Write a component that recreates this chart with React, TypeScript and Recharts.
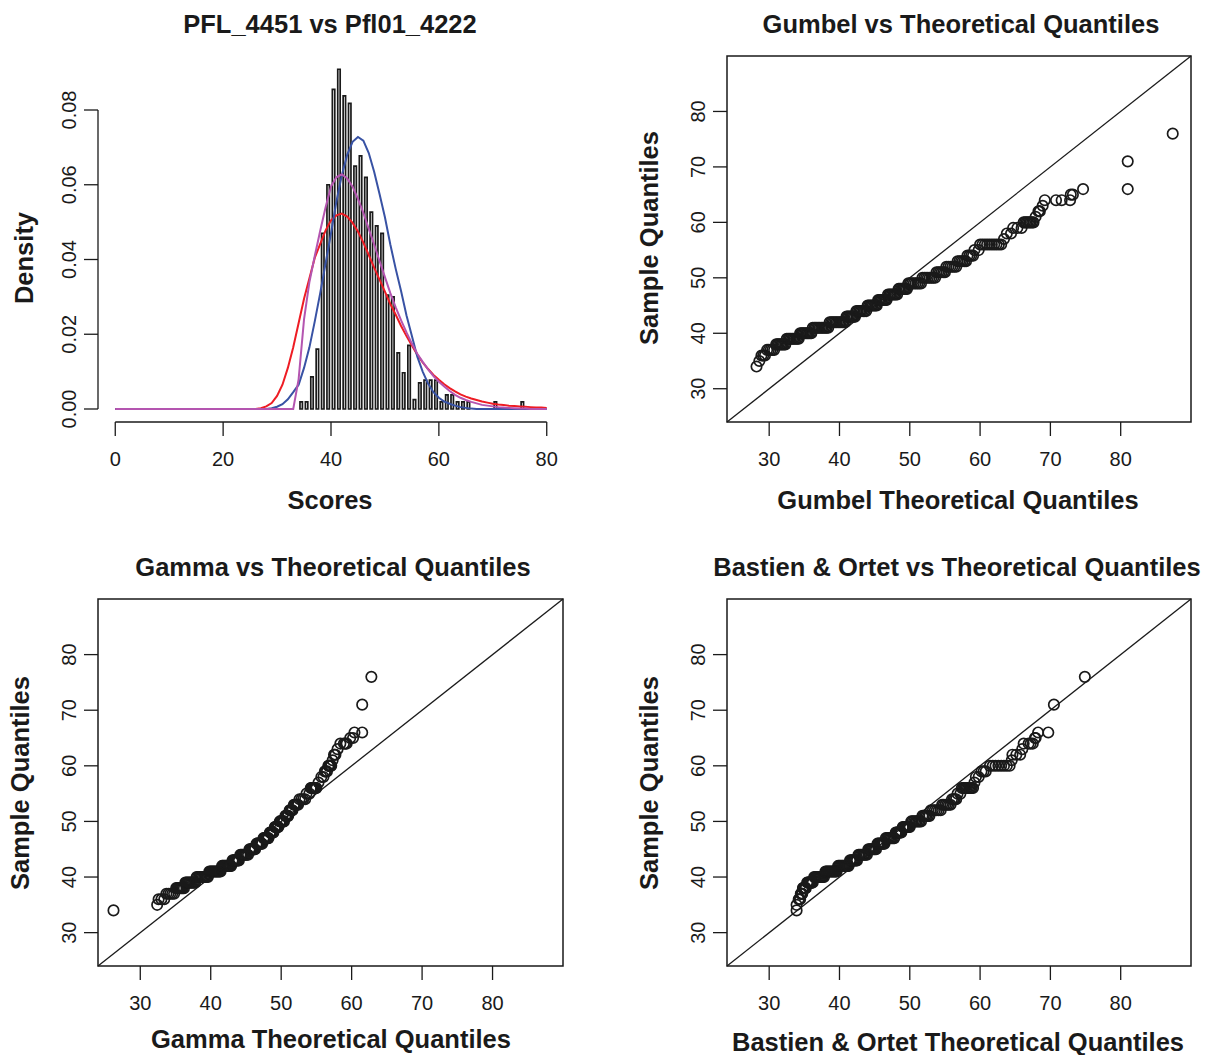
import React from "react";
import {
  Bar,
  ComposedChart,
  Line,
  ReferenceArea,
  ReferenceLine,
  Scatter,
  ScatterChart,
  XAxis,
  YAxis,
} from "recharts";

const FONT = '"Liberation Sans", Arial, Helvetica, sans-serif';
const INK = "#1a1a1a";

// histogram: left edge of each 1-unit bin and its density
const binStarts = [
  34, 35, 36, 37, 38, 39, 40, 41, 42, 43, 44, 45, 46, 47, 48, 49, 50, 51, 52,
  53, 54, 55, 56, 57, 58, 59, 60, 61, 62, 63, 64, 65, 70, 75,
];
const binDensity = [
  0.0019, 0.0019, 0.0086, 0.016, 0.047, 0.06, 0.0855, 0.0909, 0.0838, 0.0818,
  0.065, 0.0677, 0.062, 0.0527, 0.049, 0.047, 0.0305, 0.03, 0.015, 0.0097,
  0.017, 0.0025, 0.007, 0.0077, 0.0077, 0.0077, 0.0019, 0.0038, 0.0038, 0.0019,
  0.0019, 0.0019, 0.0019, 0.0019,
];

// fitted density curves, one value per score 0..80
const curveScores = [
  0, 1, 2, 3, 4, 5, 6, 7, 8, 9, 10, 11, 12, 13, 14, 15, 16, 17, 18, 19, 20,
  21, 22, 23, 24, 25, 26, 27, 28, 29, 30, 31, 32, 33, 34, 35, 36, 37, 38, 39,
  40, 41, 42, 43, 44, 45, 46, 47, 48, 49, 50, 51, 52, 53, 54, 55, 56, 57, 58,
  59, 60, 61, 62, 63, 64, 65, 66, 67, 68, 69, 70, 71, 72, 73, 74, 75, 76, 77,
  78, 79, 80,
];
const gumbelDensity = [
  0, 0, 0, 0, 0, 0, 0, 0, 0, 0, 0, 0, 0, 0, 0, 0, 0, 0, 0, 0, 0, 0, 0, 0, 0, 0,
  0, 0.0002, 0.0007, 0.0016, 0.0035, 0.0065, 0.011, 0.0165, 0.023, 0.0295,
  0.035, 0.0405, 0.0442, 0.0478, 0.0505, 0.0518, 0.0523, 0.0515, 0.0498,
  0.0475, 0.0445, 0.0412, 0.0378, 0.0346, 0.0314, 0.0281, 0.0252, 0.0222,
  0.0195, 0.017, 0.0145, 0.0125, 0.0107, 0.0091, 0.0078, 0.0066, 0.0056,
  0.0047, 0.0039, 0.0033, 0.0028, 0.0024, 0.002, 0.0017, 0.0014, 0.0012,
  0.0011, 0.0009, 0.0008, 0.0007, 0.0006, 0.0005, 0.0004, 0.0004, 0.0003,
];
const gammaDensity = [
  0, 0, 0, 0, 0, 0, 0, 0, 0, 0, 0, 0, 0, 0, 0, 0, 0, 0, 0, 0, 0, 0, 0, 0, 0, 0,
  0, 0, 0, 0.0002, 0.0006, 0.0013, 0.0026, 0.0045, 0.0065, 0.011, 0.0165,
  0.0235, 0.031, 0.039, 0.047, 0.0555, 0.0625, 0.068, 0.0715, 0.0728, 0.0718,
  0.0685, 0.0635, 0.0575, 0.0513, 0.044, 0.0375, 0.0315, 0.025, 0.0195, 0.014,
  0.01, 0.0068, 0.0045, 0.003, 0.002, 0.0014, 0.0009, 0.0005, 0.0003, 0.0001,
  0, 0, 0, 0, 0, 0, 0, 0, 0, 0, 0, 0, 0, 0,
];
const bastienDensity = [
  0, 0, 0, 0, 0, 0, 0, 0, 0, 0, 0, 0, 0, 0, 0, 0, 0, 0, 0, 0, 0, 0, 0, 0, 0, 0,
  0, 0, 0, 0, 0, 0, 0, 0, 0.008, 0.024, 0.034, 0.041, 0.0477, 0.054, 0.0595,
  0.062, 0.0628, 0.0617, 0.0595, 0.0562, 0.0525, 0.0482, 0.044, 0.0396,
  0.0353, 0.031, 0.0272, 0.0237, 0.0205, 0.0175, 0.0148, 0.0126, 0.0106,
  0.0088, 0.0073, 0.006, 0.0048, 0.0038, 0.003, 0.0024, 0.0019, 0.0015,
  0.0011, 0.0009, 0.0007, 0.0005, 0.0004, 0.0003, 0.0002, 0.0001, 0.0001, 0,
  0, 0, 0,
];

// sorted sample quantiles (one line per score level)
const sampleQuantiles = [
  34,
  35,
  36, 36, 36,
  37, 37, 37, 37, 37,
  38, 38, 38, 38, 38, 38, 38, 38,
  39, 39, 39, 39, 39, 39, 39, 39, 39, 39,
  40, 40, 40, 40, 40, 40, 40, 40, 40, 40,
  41, 41, 41, 41, 41, 41, 41, 41, 41, 41, 41, 41,
  42, 42, 42, 42, 42, 42, 42, 42, 42, 42, 42, 42,
  43, 43, 43, 43, 43, 43, 43, 43,
  44, 44, 44, 44, 44, 44, 44, 44,
  45, 45, 45, 45, 45, 45, 45, 45,
  46, 46, 46, 46, 46, 46, 46, 46,
  47, 47, 47, 47, 47, 47, 47, 47,
  48, 48, 48, 48, 48, 48, 48, 48,
  49, 49, 49, 49, 49, 49, 49, 49,
  50, 50, 50, 50, 50, 50, 50, 50,
  51, 51, 51, 51, 51, 51,
  52, 52, 52, 52, 52, 52,
  53, 53, 53, 53, 53, 53,
  54, 54, 54, 54,
  55, 55,
  56, 56, 56, 56, 56, 56, 56, 56, 56, 56,
  57,
  58, 58,
  59, 59, 59,
  60, 60, 60, 60, 60, 60, 60, 60,
  61,
  62, 62, 62,
  63,
  64, 64, 64, 64,
  65, 65,
  66, 66,
  71,
  76,
];

// matching Gumbel theoretical quantiles
const gumbelQuantiles = [
  28.2,
  28.6,
  28.9, 29.15, 29.4,
  29.7, 29.95, 30.2, 30.45, 30.7,
  31.0, 31.19, 31.37, 31.56, 31.74, 31.93, 32.11, 32.3,
  32.5, 32.69, 32.88, 33.07, 33.26, 33.44, 33.63, 33.82, 34.01, 34.2,
  34.4, 34.58, 34.76, 34.93, 35.11, 35.29, 35.47, 35.64, 35.82, 36.0,
  36.2, 36.4, 36.6, 36.8, 37.0, 37.2, 37.4, 37.6, 37.8, 38.0, 38.2, 38.4,
  38.6, 38.8, 39.0, 39.2, 39.4, 39.6, 39.8, 40.0, 40.2, 40.4, 40.6, 40.8,
  41.0, 41.17, 41.34, 41.51, 41.69, 41.86, 42.03, 42.2,
  42.4, 42.6, 42.8, 43.0, 43.2, 43.4, 43.6, 43.8,
  44.0, 44.19, 44.37, 44.56, 44.74, 44.93, 45.11, 45.3,
  45.5, 45.67, 45.84, 46.01, 46.19, 46.36, 46.53, 46.7,
  46.9, 47.09, 47.27, 47.46, 47.64, 47.83, 48.01, 48.2,
  48.4, 48.57, 48.74, 48.91, 49.09, 49.26, 49.43, 49.6,
  49.8, 50.06, 50.31, 50.57, 50.83, 51.09, 51.34, 51.6,
  51.8, 52.06, 52.31, 52.57, 52.83, 53.09, 53.34, 53.6,
  53.8, 54.04, 54.28, 54.52, 54.76, 55.0,
  55.2, 55.48, 55.76, 56.04, 56.32, 56.6,
  56.8, 57.04, 57.28, 57.52, 57.76, 58.0,
  58.2, 58.47, 58.73, 59.0,
  59.2, 59.8,
  60.0, 60.33, 60.67, 61.0, 61.33, 61.67, 62.0, 62.33, 62.67, 63.0,
  63.4,
  63.8, 64.4,
  64.7, 65.3, 65.9,
  66.2, 66.4, 66.6, 66.8, 67.0, 67.2, 67.4, 67.6,
  67.9,
  68.3, 68.4, 68.5,
  68.9,
  69.2, 70.8, 71.6, 72.8,
  72.9, 73.2,
  74.65, 81.0,
  81.0,
  87.4,
];

// matching Gamma theoretical quantiles
const gammaQuantiles = [
  26.2,
  32.4,
  32.6, 33.0, 33.4,
  33.7, 33.98, 34.25, 34.53, 34.8,
  35.1, 35.26, 35.41, 35.57, 35.73, 35.89, 36.04, 36.2,
  36.4, 36.56, 36.71, 36.87, 37.02, 37.18, 37.33, 37.49, 37.64, 37.8,
  38.0, 38.18, 38.36, 38.53, 38.71, 38.89, 39.07, 39.24, 39.42, 39.6,
  39.8, 39.95, 40.09, 40.24, 40.38, 40.53, 40.67, 40.82, 40.96, 41.11, 41.25, 41.4,
  41.6, 41.72, 41.84, 41.95, 42.07, 42.19, 42.31, 42.43, 42.55, 42.66, 42.78, 42.9,
  43.1, 43.23, 43.36, 43.49, 43.61, 43.74, 43.87, 44.0,
  44.2, 44.36, 44.51, 44.67, 44.83, 44.99, 45.14, 45.3,
  45.5, 45.61, 45.73, 45.84, 45.96, 46.07, 46.19, 46.3,
  46.5, 46.61, 46.73, 46.84, 46.96, 47.07, 47.19, 47.3,
  47.5, 47.6, 47.7, 47.8, 47.9, 48.0, 48.1, 48.2,
  48.4, 48.47, 48.54, 48.61, 48.69, 48.76, 48.83, 48.9,
  49.1, 49.17, 49.24, 49.31, 49.39, 49.46, 49.53, 49.6,
  49.8, 49.89, 49.97, 50.06, 50.14, 50.23, 50.31, 50.4,
  50.6, 50.68, 50.76, 50.84, 50.92, 51.0,
  51.2, 51.28, 51.36, 51.44, 51.52, 51.6,
  51.8, 51.92, 52.04, 52.16, 52.28, 52.4,
  52.6, 52.87, 53.13, 53.4,
  53.6, 54.0,
  54.2, 54.29, 54.38, 54.47, 54.56, 54.64, 54.73, 54.82, 54.91, 55.0,
  55.3,
  55.7, 56.0,
  56.2, 56.35, 56.5,
  56.7, 56.76, 56.81, 56.87, 56.93, 56.99, 57.04, 57.1,
  57.3,
  57.5, 57.6, 57.7,
  58.0,
  58.4, 58.9, 59.1, 59.3,
  59.8, 60.2,
  60.4, 61.5,
  61.5,
  62.8,
];

// matching Bastien & Ortet theoretical quantiles
const bastienQuantiles = [
  33.9,
  33.9,
  34.2, 34.3, 34.4,
  34.5, 34.55, 34.6, 34.65, 34.7,
  34.8, 34.86, 34.91, 34.97, 35.03, 35.09, 35.14, 35.2,
  35.4, 35.49, 35.58, 35.67, 35.76, 35.84, 35.93, 36.02, 36.11, 36.2,
  36.4, 36.56, 36.71, 36.87, 37.02, 37.18, 37.33, 37.49, 37.64, 37.8,
  38.0, 38.15, 38.29, 38.44, 38.58, 38.73, 38.87, 39.02, 39.16, 39.31, 39.45, 39.6,
  39.8, 39.94, 40.07, 40.21, 40.35, 40.48, 40.62, 40.75, 40.89, 41.03, 41.16, 41.3,
  41.5, 41.64, 41.79, 41.93, 42.07, 42.21, 42.36, 42.5,
  42.7, 42.87, 43.04, 43.21, 43.39, 43.56, 43.73, 43.9,
  44.1, 44.26, 44.41, 44.57, 44.73, 44.89, 45.04, 45.2,
  45.4, 45.54, 45.69, 45.83, 45.97, 46.11, 46.26, 46.4,
  46.6, 46.77, 46.94, 47.11, 47.29, 47.46, 47.63, 47.8,
  48.0, 48.11, 48.23, 48.34, 48.46, 48.57, 48.69, 48.8,
  49.0, 49.14, 49.29, 49.43, 49.57, 49.71, 49.86, 50.0,
  50.2, 50.4, 50.6, 50.8, 51.0, 51.2, 51.4, 51.6,
  51.8, 52.0, 52.2, 52.4, 52.6, 52.8,
  53.0, 53.28, 53.56, 53.84, 54.12, 54.4,
  54.6, 54.84, 55.08, 55.32, 55.56, 55.8,
  56.0, 56.2, 56.4, 56.6,
  56.8, 57.2,
  57.4, 57.58, 57.76, 57.93, 58.11, 58.29, 58.47, 58.64, 58.82, 59.0,
  59.2,
  59.4, 59.8,
  60.2, 60.5, 60.8,
  61.4, 61.8, 62.2, 62.6, 63.0, 63.4, 63.8, 64.2,
  64.5,
  64.6, 65.15, 65.7,
  66.0,
  66.2, 66.9, 67.2, 67.5,
  67.8, 67.9,
  68.25, 69.7,
  70.5,
  74.9,
];

const densityTicks = [0, 0.02, 0.04, 0.06, 0.08];
const scoreTicks = [0, 20, 40, 60, 80];
const qqTicks = [30, 40, 50, 60, 70, 80];

// layout of the four plot boxes
const YW = 98; // room left of each box
const MT = 8;
const MR = 10;
const XH = 60;

const HIST_X: [number, number] = [-3.2, 83.2];
const HIST_Y: [number, number] = [-0.00348, 0.09445];
const QQ_LIM: [number, number] = [24, 90];

const densityTable = [
  ...curveScores.map((s, i) => ({
    x: s,
    gumbel: gumbelDensity[i],
    gamma: gammaDensity[i],
    bastien: bastienDensity[i],
  })),
  ...binStarts.map((s, i) => ({ x: s + 0.5, hist: binDensity[i] })),
].sort((a, b) => a.x - b.x);

const RotatedTick = (props: any) => {
  const { x, y, payload, digits } = props;
  const label =
    digits != null ? Number(payload.value).toFixed(digits) : payload.value;
  return (
    <text
      x={x}
      y={y}
      transform={`rotate(-90, ${x}, ${y})`}
      textAnchor="middle"
      fontSize={20}
      fontFamily={FONT}
      fill={INK}
    >
      {label}
    </text>
  );
};

const Ring = (props: any) => (
  <circle
    cx={props.cx}
    cy={props.cy}
    r={5.2}
    fill="none"
    stroke={INK}
    strokeWidth={1.7}
  />
);

const xTickProps = { fill: INK, fontSize: 20, fontFamily: FONT };
const tickLineProps = { stroke: INK, strokeWidth: 1.3 };

const HistPanel = ({ left, top, w, h }: any) => {
  const barPx = w / (HIST_X[1] - HIST_X[0]);
  return (
    <div style={{ position: "absolute", left: left - YW, top: top - MT }}>
      <ComposedChart
        width={YW + w + MR}
        height={MT + h + XH}
        data={densityTable}
        margin={{ top: MT, right: MR, left: 0, bottom: 0 }}
      >
        <XAxis
          type="number"
          dataKey="x"
          domain={HIST_X}
          allowDataOverflow
          ticks={scoreTicks}
          interval={0}
          axisLine={false}
          tickSize={14}
          tickMargin={16}
          tickLine={tickLineProps}
          tick={xTickProps}
          height={XH}
        />
        <YAxis
          type="number"
          domain={HIST_Y}
          allowDataOverflow
          ticks={densityTicks}
          interval={0}
          axisLine={false}
          tickSize={14}
          tickMargin={8}
          tickLine={tickLineProps}
          tick={(p: any) => <RotatedTick {...p} digits={2} />}
          width={YW}
        />
        <ReferenceLine
          segment={[
            { x: 0, y: HIST_Y[0] },
            { x: 80, y: HIST_Y[0] },
          ]}
          stroke={INK}
          strokeWidth={1.3}
          ifOverflow="visible"
        />
        <ReferenceLine
          segment={[
            { x: HIST_X[0], y: 0 },
            { x: HIST_X[0], y: 0.08 },
          ]}
          stroke={INK}
          strokeWidth={1.3}
          ifOverflow="visible"
        />
        <Bar
          dataKey="hist"
          barSize={barPx}
          fill="#ffffff"
          stroke={INK}
          strokeWidth={1.7}
          isAnimationActive={false}
        />
        <Line
          dataKey="gumbel"
          type="linear"
          stroke="#ee1c24"
          strokeWidth={2}
          dot={false}
          connectNulls
          isAnimationActive={false}
        />
        <Line
          dataKey="gamma"
          type="linear"
          stroke="#3852a4"
          strokeWidth={2}
          dot={false}
          connectNulls
          isAnimationActive={false}
        />
        <Line
          dataKey="bastien"
          type="linear"
          stroke="#b455b0"
          strokeWidth={2}
          dot={false}
          connectNulls
          isAnimationActive={false}
        />
      </ComposedChart>
    </div>
  );
};

const QQPanel = ({ left, top, w, h, theo }: any) => {
  const points = sampleQuantiles.map((s, i) => ({ x: theo[i], y: s }));
  return (
    <div style={{ position: "absolute", left: left - YW, top: top - MT }}>
      <ScatterChart
        width={YW + w + MR}
        height={MT + h + XH}
        margin={{ top: MT, right: MR, left: 0, bottom: 0 }}
      >
        <XAxis
          type="number"
          dataKey="x"
          domain={QQ_LIM}
          allowDataOverflow
          ticks={qqTicks}
          interval={0}
          axisLine={false}
          tickSize={14}
          tickMargin={16}
          tickLine={tickLineProps}
          tick={xTickProps}
          height={XH}
        />
        <YAxis
          type="number"
          dataKey="y"
          domain={QQ_LIM}
          allowDataOverflow
          ticks={qqTicks}
          interval={0}
          axisLine={false}
          tickSize={14}
          tickMargin={8}
          tickLine={tickLineProps}
          tick={(p: any) => <RotatedTick {...p} />}
          width={YW}
        />
        <ReferenceArea
          x1={QQ_LIM[0]}
          x2={QQ_LIM[1]}
          y1={QQ_LIM[0]}
          y2={QQ_LIM[1]}
          fill="none"
          fillOpacity={0}
          stroke={INK}
          strokeWidth={1.5}
          ifOverflow="visible"
        />
        <ReferenceLine
          segment={[
            { x: QQ_LIM[0], y: QQ_LIM[0] },
            { x: QQ_LIM[1], y: QQ_LIM[1] },
          ]}
          stroke={INK}
          strokeWidth={1.3}
        />
        <Scatter data={points} shape={Ring} isAnimationActive={false} />
      </ScatterChart>
    </div>
  );
};

const titleStyle = {
  fontFamily: FONT,
  fontSize: 25.5,
  fontWeight: 700,
  fill: INK,
};

export default function App() {
  return (
    <div
      style={{
        position: "absolute",
        left: 0,
        top: 0,
        width: 1211,
        height: 1055,
        background: "#fff",
        overflow: "hidden",
      }}
    >
      <HistPanel left={98} top={56} w={466} h={366} />
      <QQPanel left={727} top={56} w={464} h={366} theo={gumbelQuantiles} />
      <QQPanel left={98} top={599} w={465} h={367} theo={gammaQuantiles} />
      <QQPanel left={727} top={599} w={464} h={367} theo={bastienQuantiles} />

      <svg
        width={1211}
        height={1055}
        style={{ position: "absolute", left: 0, top: 0, pointerEvents: "none" }}
      >
        <g style={titleStyle as any} textAnchor="middle">
          <text x={330} y={33}>PFL_4451 vs Pfl01_4222</text>
          <text x={961} y={33}>Gumbel vs Theoretical Quantiles</text>
          <text x={333} y={576}>Gamma vs Theoretical Quantiles</text>
          <text x={957} y={576}>Bastien &amp; Ortet vs Theoretical Quantiles</text>

          <text x={330} y={509}>Scores</text>
          <text x={958} y={509}>Gumbel Theoretical Quantiles</text>
          <text x={331} y={1048}>Gamma Theoretical Quantiles</text>
          <text x={958} y={1051}>Bastien &amp; Ortet Theoretical Quantiles</text>

          <text x={33} y={258} transform="rotate(-90, 33, 258)">
            Density
          </text>
          <text x={658} y={238} transform="rotate(-90, 658, 238)">
            Sample Quantiles
          </text>
          <text x={29} y={783} transform="rotate(-90, 29, 783)">
            Sample Quantiles
          </text>
          <text x={658} y={783} transform="rotate(-90, 658, 783)">
            Sample Quantiles
          </text>
        </g>
      </svg>
    </div>
  );
}
